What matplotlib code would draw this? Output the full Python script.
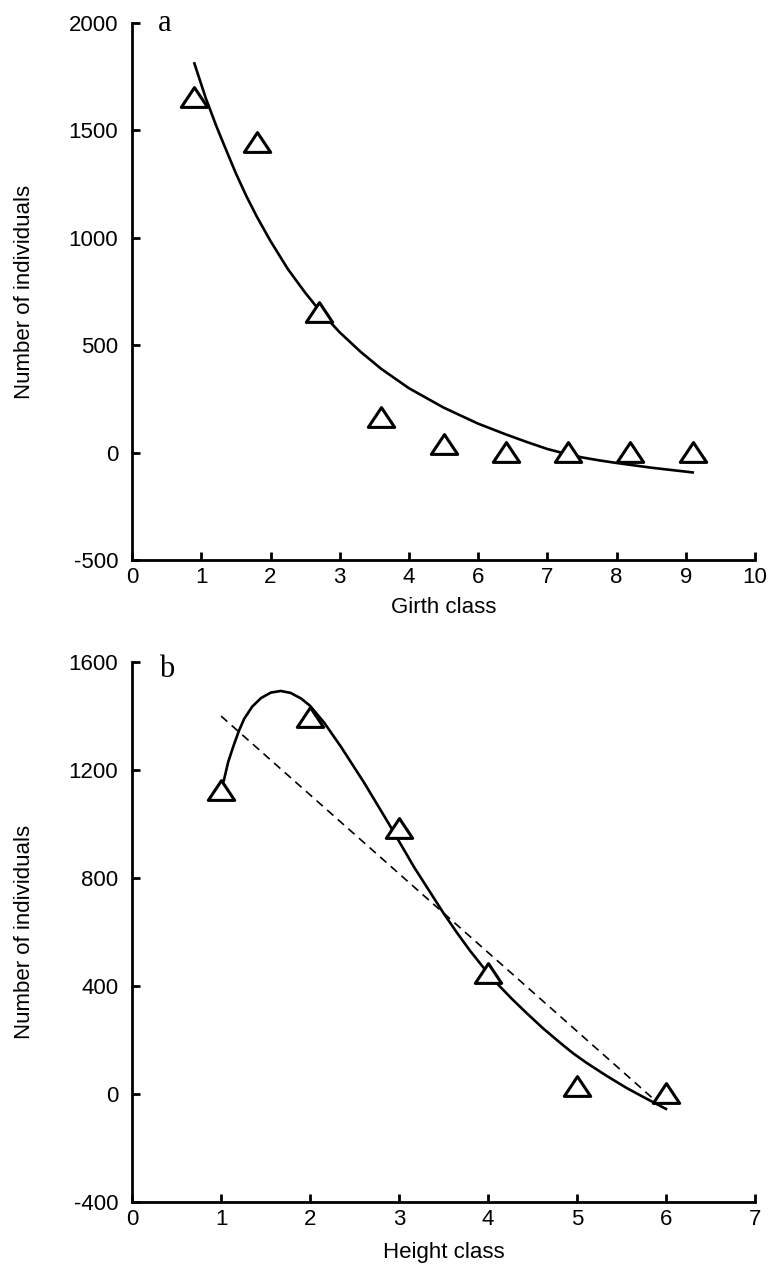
import matplotlib
matplotlib.use("Agg")
import matplotlib.pyplot as plt
from matplotlib.path import Path

# panel a: girth classes (positions on the 0..9 tick scale)
girth_x = [0.9, 1.8, 2.7, 3.6, 4.5, 5.4, 6.3, 7.2, 8.1]
girth_n = [1655, 1445, 655, 165, 40, 3, 2, 2, 2]
girth_fit_x = [0.9, 1.065, 1.22, 1.36, 1.5, 1.65, 1.8, 2.0, 2.25, 2.5, 2.7, 3.0,
               3.3, 3.6, 4.0, 4.5, 5.0, 5.4, 5.7, 6.0, 6.25, 6.5, 6.75, 7.0,
               7.5, 8.1]
girth_fit_y = [1812, 1650, 1518, 1408, 1300, 1195, 1100, 985, 855, 745, 665, 560,
               470, 390, 300, 210, 135, 85, 50, 17, -4, -22, -36, -48,
               -70, -92]
girth_ticks = ['0', '1', '2', '3', '4', '6', '7', '8', '9', '10']

# panel b: height classes
height_x = [1, 2, 3, 4, 5, 6]
height_n = [1126, 1396, 985, 450, 30, 5]
height_fit_x = [1.03, 1.08, 1.14, 1.2, 1.26, 1.35, 1.45, 1.56, 1.67, 1.78, 1.9,
                2.0, 2.16, 2.35, 2.61, 2.88, 3.17, 3.5, 3.65, 3.8, 3.95, 4.1,
                4.27, 4.44, 4.62, 4.81, 4.96, 5.11, 5.33, 5.56, 5.78, 6.0]
height_fit_y = [1160, 1230, 1290, 1345, 1390, 1435, 1467, 1487, 1493, 1486, 1465,
                1438, 1375, 1285, 1152, 1004, 840, 670, 598, 530, 468, 410,
                352, 298, 243, 190, 150, 115, 68, 22, -17, -55]
height_lin_x = [1.0, 5.9]
height_lin_y = [1400, -30]

plt.rcParams['font.family'] = ['Liberation Sans', 'DejaVu Sans']
plt.rcParams['axes.unicode_minus'] = False

# wide, squat open triangle like the original
tri = Path([(-1, -0.75), (1, -0.75), (0, 0.75), (-1, -0.75)],
           [Path.MOVETO, Path.LINETO, Path.LINETO, Path.CLOSEPOLY])

fig = plt.figure(figsize=(7.68, 12.72), dpi=100)
ax1 = fig.add_axes([0.172, 0.5597, 0.811, 0.4222])
ax2 = fig.add_axes([0.172, 0.055, 0.811, 0.4245])


def style(ax):
    for s in ['top', 'right']:
        ax.spines[s].set_visible(False)
    for s in ['left', 'bottom']:
        ax.spines[s].set_linewidth(2)
    ax.tick_params(direction='in', length=6, width=2, labelsize=16)
    ax.tick_params(axis='y', pad=10)
    ax.tick_params(axis='x', pad=5)


style(ax1)
ax1.plot(girth_fit_x, girth_fit_y, color='black', lw=1.9)
ax1.plot(girth_x, girth_n, linestyle='none', marker=tri, ms=19,
         mfc='white', mec='black', mew=2.2)
ax1.set_xlim(0, 9)
ax1.set_ylim(-500, 2000)
ax1.set_xticks(range(10))
ax1.set_xticklabels(girth_ticks)
ax1.set_yticks([-500, 0, 500, 1000, 1500, 2000])
ax1.set_xlabel('Girth class', fontsize=16)
ax1.set_ylabel('Number of individuals', fontsize=16)
ax1.xaxis.set_label_coords(0.5, -0.088)
ax1.xaxis.label.set_va('center')
ax1.yaxis.set_label_coords(-0.172, 0.5)
ax1.yaxis.label.set_va('center')
ax1.text(0.053, 1.0, 'a', transform=ax1.transAxes, fontsize=22,
         family='Liberation Serif', va='center', ha='center')

style(ax2)
ax2.plot(height_lin_x, height_lin_y, color='black', lw=1.2, linestyle=(0, (5, 3.5)))
ax2.plot(height_fit_x, height_fit_y, color='black', lw=1.9)
ax2.plot(height_x, height_n, linestyle='none', marker=tri, ms=19,
         mfc='white', mec='black', mew=2.2)
ax2.set_xlim(0, 7)
ax2.set_ylim(-400, 1600)
ax2.set_xticks(range(8))
ax2.set_yticks([-400, 0, 400, 800, 1200, 1600])
ax2.set_xlabel('Height class', fontsize=16)
ax2.set_ylabel('Number of individuals', fontsize=16)
ax2.xaxis.set_label_coords(0.5, -0.093)
ax2.xaxis.label.set_va('center')
ax2.yaxis.set_label_coords(-0.172, 0.5)
ax2.yaxis.label.set_va('center')
ax2.text(0.056, 0.987, 'b', transform=ax2.transAxes, fontsize=22,
         family='Liberation Serif', va='center', ha='center')

fig.savefig('out.png', dpi=100)
